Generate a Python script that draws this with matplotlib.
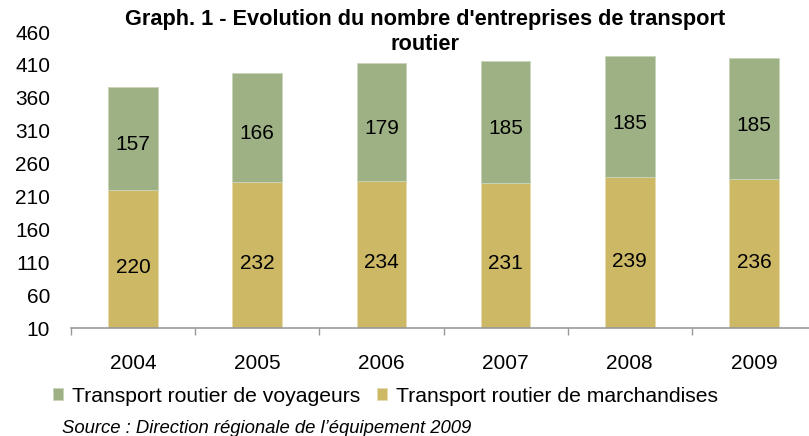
import matplotlib.pyplot as plt
import numpy as np

years = ['2004', '2005', '2006', '2007', '2008', '2009']
marchandises = [220, 232, 234, 231, 239, 236]
voyageurs = [157, 166, 179, 185, 185, 185]
yticks = [10, 60, 110, 160, 210, 260, 310, 360, 410, 460]

green = '#9eb185'
gold = '#cdb866'

plt.rcParams['font.family'] = ['Liberation Sans', 'DejaVu Sans']

fig = plt.figure(figsize=(8.09, 4.36), dpi=100)
# axes extends a little past the right edge, like the original
ax = fig.add_axes([71 / 809, (436 - 328) / 436, 745 / 809, 296 / 436])

x = np.arange(len(years))
b1 = ax.bar(x, marchandises, width=0.4, color=gold, edgecolor='#e6dcb0', linewidth=0.6,
            label='Transport routier de marchandises')
b2 = ax.bar(x, voyageurs, width=0.4, bottom=marchandises, color=green, edgecolor='#c9d4bb',
            linewidth=0.6, label='Transport routier de voyageurs')

for i in range(len(years)):
    ax.text(x[i], marchandises[i] / 2 - 8, str(marchandises[i]), ha='center', va='center', fontsize=15)
    ax.text(x[i], marchandises[i] + voyageurs[i] / 2 - 10, str(voyageurs[i]), ha='center', va='center', fontsize=15)

ax.set_xlim(-0.5, 5.5)
ax.set_ylim(10, 460)
ax.set_yticks(yticks)
ax.set_xticks(x)
ax.set_xticklabels(years, fontsize=15)
ax.set_xticks(np.arange(-0.5, 6, 1), minor=True)
ax.tick_params(axis='x', which='major', length=0, pad=19)
ax.tick_params(axis='x', which='minor', length=5, color='#999999', width=1)
ax.tick_params(axis='y', length=0, labelsize=15, pad=15)

for s in ['top', 'right', 'left']:
    ax.spines[s].set_visible(False)
ax.spines['bottom'].set_color('#999999')
ax.spines['bottom'].set_linewidth(1.2)

fig.text(425 / 809, 1 - 20 / 436, "Graph. 1 - Evolution du nombre d'entreprises de transport",
         ha='center', va='center', fontsize=15.7, fontweight='bold')
fig.text(425 / 809, 1 - 44 / 436, "routier", ha='center', va='center', fontsize=15.7, fontweight='bold')

fig.legend([b2, b1], ['Transport routier de voyageurs', 'Transport routier de marchandises'],
           loc='center left', bbox_to_anchor=(53 / 809, 1 - 396 / 436), ncol=2, frameon=False,
           fontsize=15.2, handlelength=0.45, handleheight=0.45, handletextpad=0.45, columnspacing=0.8,
           borderaxespad=0, borderpad=0)

fig.text(62 / 809, 1 - 428 / 436, "Source : Direction régionale de l’équipement 2009",
         ha='left', va='center', fontsize=13.3, style='italic')

fig.savefig('out.png', dpi=100)
